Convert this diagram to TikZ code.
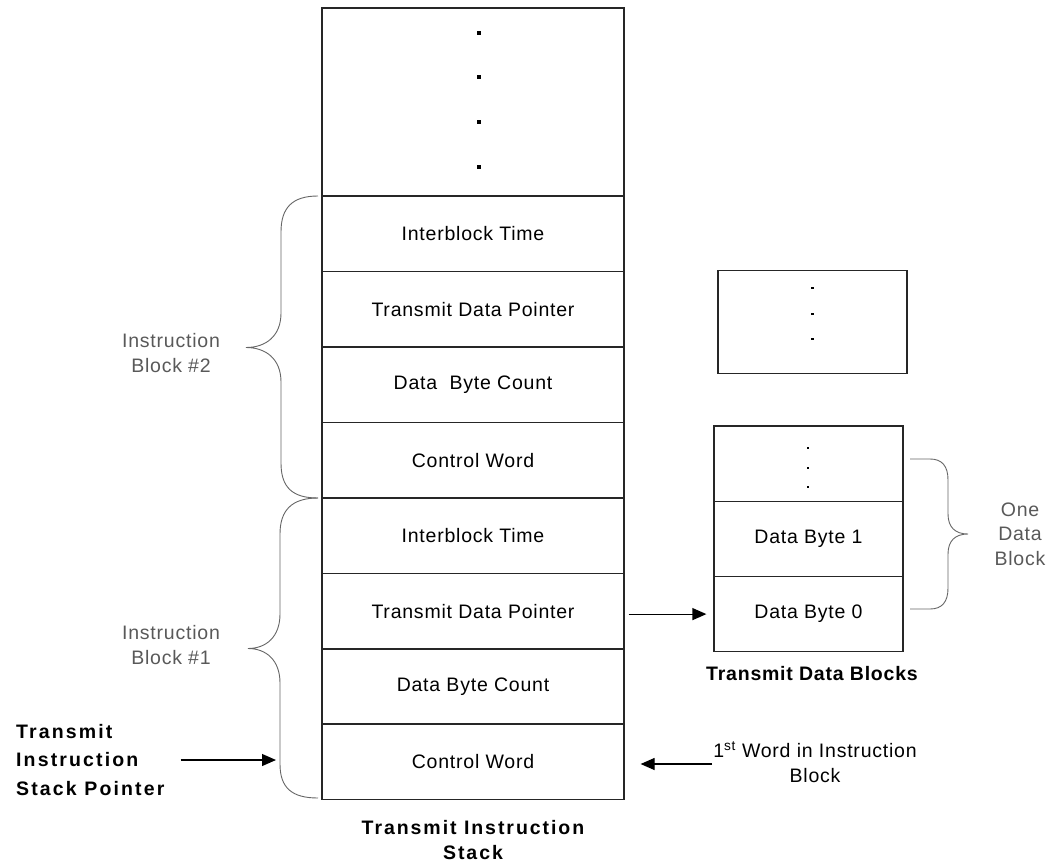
\documentclass[tikz,border=0pt]{standalone}
\usepackage{fontspec}
\setmainfont{Liberation Sans}[LetterSpace=4]
\usetikzlibrary{arrows.meta}

\tikzset{
  cell/.style={draw=black!85, line width=1.2pt, minimum width=302pt,
    minimum height=75.4pt, inner sep=0pt, font=\fontsize{19.5}{24.5}\selectfont},
  dcell/.style={draw=black!85, line width=1.2pt, minimum width=189pt,
    minimum height=75.3pt, inner sep=0pt, font=\fontsize{19.5}{24.5}\selectfont},
  brace/.style={draw=black!60, line width=0.9pt},
  note/.style={text=black!65, align=center, inner sep=0pt,
    font=\fontsize{19.5}{24.5}\selectfont},
  caption/.style={align=center, inner sep=0pt,
    font=\fontsize{19.5}{25}\selectfont\bfseries\addfontfeatures{LetterSpace=10}},
  arr/.style={draw=black, line width=1.2pt, -{Triangle[length=14pt,width=12pt]}},
  dot/.style={fill=black}
}

\begin{document}
\begin{tikzpicture}[x=1pt,y=-1pt]
  \useasboundingbox (0,0) rectangle (1056,864);

  % Transmit instruction stack
  \node[cell, minimum height=188pt] (top) at (473,102) {};
  \node[cell] (ib2) at (473,233.7) {Interblock Time};
  \node[cell] (dp2) at (473,309.2) {Transmit Data Pointer};
  \node[cell] (bc2) at (473,384.7) {Data\ \ Byte Count};
  \node[cell] (cw2) at (473,460.2) {Control Word};
  \node[cell] (ib1) at (473,535.7) {Interblock Time};
  \node[cell] (dp1) at (473,611.2) {Transmit Data Pointer};
  \node[cell] (bc1) at (473,686.5) {Data Byte Count};
  \node[cell] (cw1) at (473,761.5) {Control Word};

  \foreach \y in {33,77,122,167}
    \fill[dot] (477.3,\y-1.7) rectangle ++(3.5,3.5);

  % Transmit data blocks
  \node[dcell, minimum height=103pt] (upper) at (812.5,321.7) {};
  \foreach \y in {288,314,339}
    \fill[dot] (811,\y-1.2) rectangle ++(2.6,2.6);

  \node[dcell] (dtop) at (808.5,463.6) {};
  \node[dcell] (db1) at (808.5,538.8) {Data Byte 1};
  \node[dcell] (db0) at (808.5,614.1) {Data Byte 0};
  \foreach \y in {448,467.7,486.7}
    \fill[dot] (807,\y-1) rectangle ++(2,2);

  % Braces
  \draw[brace] (318,196) .. controls (292,196) and (281,208) .. (281,232)
    -- (281,313) .. controls (281,336) and (266,347.5) .. (246,347.5)
    .. controls (266,347.5) and (281,359) .. (281,382)
    -- (281,463) .. controls (281,487) and (292,498) .. (318,498);
  \draw[brace] (318,498) .. controls (292,498) and (280,510) .. (280,534)
    -- (280,614) .. controls (280,637) and (266,648.5) .. (248,648.5)
    .. controls (266,648.5) and (280,660) .. (280,683)
    -- (280,764) .. controls (280,788) and (292,798) .. (318,798);
  \draw[brace] (910,459) -- (930,459) .. controls (942,459) and (948,466) .. (948,480)
    -- (948,514) .. controls (948,527) and (955,534) .. (968,534)
    .. controls (955,534) and (948,541) .. (948,554)
    -- (948,588) .. controls (948,602) and (942,609) .. (930,609) -- (910,609);

  % Labels
  \node[note] (lb2) at (171,353) {Instruction\\Block \#2};
  \node[note] (lb1) at (171,645) {Instruction\\Block \#1};
  \node[note, text width=80pt] (one) at (1020,534) {One\\Data\\Block};
  \node[caption] (dcap) at (812,674)
    {\addfontfeatures{LetterSpace=4}Transmit Data Blocks};
  \node[caption] (scap) at (473,840) {Transmit Instruction\\Stack};
  \node[caption, align=left, anchor=west,
    font=\fontsize{19.5}{28.7}\selectfont\bfseries\addfontfeatures{LetterSpace=11}]
    (ptr) at (16,760) {Transmit\\Instruction\\Stack Pointer};
  \node[note, text=black] (first) at (815,762)
    {1\textsuperscript{st} Word in Instruction\\Block};

  % Pointers
  \coordinate (ptrtip) at (276,760);
  \draw[arr] ([xshift=16pt]ptr.east |- ptrtip) -- (ptrtip);
  \draw[arr] ([xshift=4pt]dp1.east |- db0.west) -- ([xshift=-7pt]db0.west);
  \draw[arr] ([xshift=-1pt]first.west |- 0,764) -- ([xshift=16pt]cw1.east |- 0,764);
\end{tikzpicture}
\end{document}
